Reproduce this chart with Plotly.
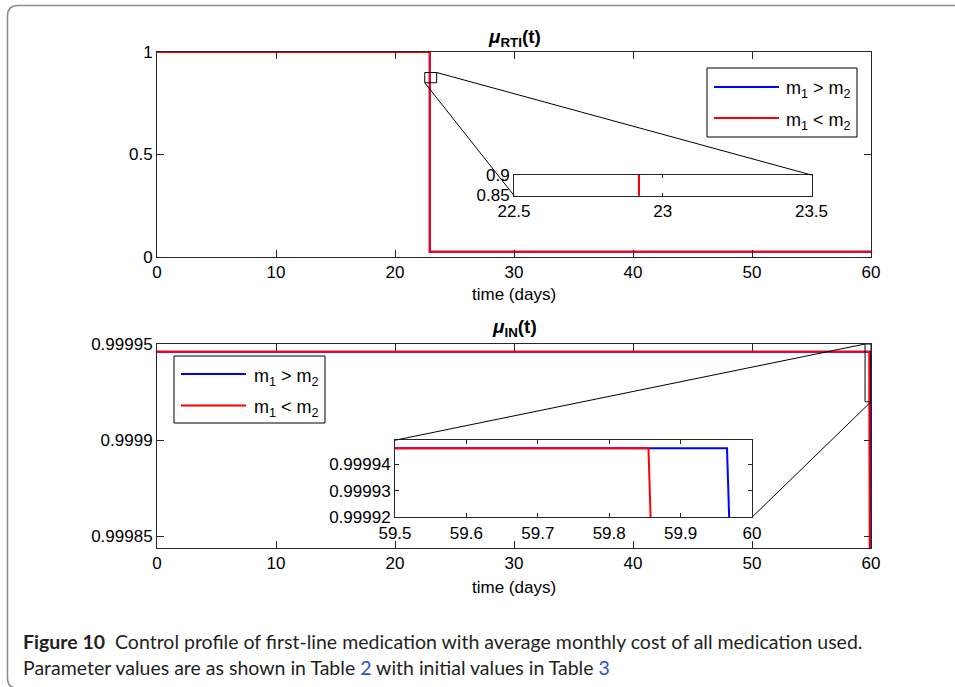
import plotly.graph_objects as go

# ---------------- data ----------------
t_rti_blue = [0, 22.92, 22.92, 60]
mu_rti_blue = [1, 1, 0.025, 0.025]
t_rti_red = [0, 22.92, 22.92, 60]
mu_rti_red = [1, 1, 0.025, 0.025]

t_in_blue = [0, 59.965, 59.968, 60]
mu_in_blue = [0.999946, 0.999946, 0.99992, 0.9996]
t_in_red = [0, 59.855, 59.858, 60]
mu_in_red = [0.999946, 0.999946, 0.99992, 0.9996]

time_ticks = [0, 10, 20, 30, 40, 50, 60]
rti_ticks = [0, 0.5, 1]
rti_ticktext = ["0", "0.5", "1"]
in_ticks = [0.99985, 0.9999, 0.99995]
in_ticktext = ["0.99985", "0.9999", "0.99995"]
rti_zoom_x = [22.5, 23, 23.5]
rti_zoom_y = [0.85, 0.9]
in_zoom_x = [59.5, 59.6, 59.7, 59.8, 59.9, 60]
in_zoom_xtext = ["59.5", "59.6", "59.7", "59.8", "59.9", "60"]
in_zoom_y = [0.99992, 0.99993, 0.99994]
in_zoom_ytext = ["0.99992", "0.99993", "0.99994"]

legend_labels = ["m<sub>1</sub> &gt; m<sub>2</sub>", "m<sub>1</sub> &lt; m<sub>2</sub>"]
BLUE, RED = "#0000ff", "#ff0000"

# ---------------- layout geometry (pixels) ----------------
W, H = 955, 687
AX_L, AX_R = 157, 871
TOP_Y = (52, 257)
BOT_Y = (344, 548)
RTI_RANGE = (0, 1)
IN_RANGE = (0.999844, 0.99995)
T_RANGE = (0, 60)

# inset boxes in parent data coordinates (x0, x1, y0, y1)
rti_inset = (30, 55, 0.3, 0.4)
in_inset = (20, 50, 0.99986, 0.9999)
rti_zoom_box = (22.5, 23.5, 0.85, 0.9)
in_zoom_box = (59.5, 60, 0.99992, 0.99995)


def pxx(x):
    return x / W


def pxy(y):
    return 1 - y / H


def data_to_paper(t, v, yrange, ypix):
    xp = AX_L + (t - T_RANGE[0]) / (T_RANGE[1] - T_RANGE[0]) * (AX_R - AX_L)
    yp = ypix[1] - (v - yrange[0]) / (yrange[1] - yrange[0]) * (ypix[1] - ypix[0])
    return pxx(xp), pxy(yp)


def inset_domain(box, yrange, ypix):
    x0, y0 = data_to_paper(box[0], box[2], yrange, ypix)
    x1, y1 = data_to_paper(box[1], box[3], yrange, ypix)
    return [x0, x1], [y0, y1]


FONT = "Liberation Sans, Arial, Helvetica, sans-serif"
AXC = "#262626"

fig = go.Figure()

def add_pair(tb, yb, tr, yr, xa, ya):
    fig.add_trace(go.Scatter(x=tb, y=yb, mode="lines", line=dict(color=BLUE, width=2),
                             xaxis=xa, yaxis=ya, showlegend=False, hoverinfo="skip"))
    fig.add_trace(go.Scatter(x=tr, y=yr, mode="lines", line=dict(color=RED, width=2),
                             xaxis=xa, yaxis=ya, showlegend=False, hoverinfo="skip"))

add_pair(t_rti_blue, mu_rti_blue, t_rti_red, mu_rti_red, "x", "y")
add_pair(t_rti_blue, mu_rti_blue, t_rti_red, mu_rti_red, "x2", "y2")
add_pair(t_in_blue, mu_in_blue, t_in_red, mu_in_red, "x3", "y3")
add_pair(t_in_blue, mu_in_blue, t_in_red, mu_in_red, "x4", "y4")


def ax(domain, rng, tickvals, ticktext=None, ticklen=7, anchor=None):
    d = dict(domain=domain, range=list(rng), tickvals=tickvals, showline=True,
             linecolor=AXC, linewidth=1, mirror="ticks", ticks="inside", ticklen=ticklen,
             tickcolor=AXC, tickwidth=1, showgrid=False, zeroline=False, fixedrange=True,
             automargin=False,
             tickfont=dict(family=FONT, size=17, color="#000"), anchor=anchor)
    if ticktext is not None:
        d["ticktext"] = ticktext
    return d

top_xd = [pxx(AX_L), pxx(AX_R)]
top_yd = [pxy(TOP_Y[1]), pxy(TOP_Y[0])]
bot_yd = [pxy(BOT_Y[1]), pxy(BOT_Y[0])]
rti_in_xd, rti_in_yd = inset_domain(rti_inset, RTI_RANGE, TOP_Y)
in_in_xd, in_in_yd = inset_domain(in_inset, IN_RANGE, BOT_Y)

fig.update_layout(
    xaxis=ax(top_xd, T_RANGE, time_ticks, anchor="y"),
    yaxis=ax(top_yd, RTI_RANGE, rti_ticks, rti_ticktext, anchor="x"),
    xaxis2=ax(rti_in_xd, (22.5, 23.5), rti_zoom_x, ["22.5", "23", "23.5"], ticklen=3, anchor="y2"),
    yaxis2=ax(rti_in_yd, (0.85, 0.9), rti_zoom_y, ["0.85", "0.9"], ticklen=3, anchor="x2"),
    xaxis3=ax(top_xd, T_RANGE, time_ticks, anchor="y3"),
    yaxis3=ax(bot_yd, IN_RANGE, in_ticks, in_ticktext, anchor="x3"),
    xaxis4=ax(in_in_xd, (59.5, 60), in_zoom_x, in_zoom_xtext, ticklen=4, anchor="y4"),
    yaxis4=ax(in_in_yd, (0.99992, 0.999949), in_zoom_y, in_zoom_ytext, ticklen=4, anchor="x4"),
)

shapes = []
annotations = []

# zoom boxes and connector lines (in parent data coords)
for (bx, xa, ya, ins, corners) in [
    (rti_zoom_box, "x", "y", rti_inset, [((1, 3), (1, 3)), ((0, 2), (0, 2))]),
    (in_zoom_box, "x3", "y3", in_inset, [((0, 3), (0, 3)), ((1, 2), (1, 2))]),
]:
    shapes.append(dict(type="rect", xref=xa, yref=ya, x0=bx[0], x1=bx[1], y0=bx[2], y1=bx[3],
                       line=dict(color="#000", width=1), layer="above"))
    for (bc, ic) in corners:
        shapes.append(dict(type="line", xref=xa, yref=ya,
                           x0=bx[bc[0]], y0=bx[bc[1]], x1=ins[ic[0]], y1=ins[ic[1]],
                           line=dict(color="#000", width=1), layer="above"))

# custom legends (pixel geometry)
for (bx0, by0, bx1, by1, lx0, lx1, tx, rows) in [
    (707, 68, 857, 137, 714, 779, 784, (87, 118)),
    (174, 356, 325, 423, 181, 246, 252, (374, 405.5)),
]:
    shapes.append(dict(type="rect", xref="paper", yref="paper", x0=pxx(bx0), x1=pxx(bx1),
                       y0=pxy(by1), y1=pxy(by0), fillcolor="white",
                       line=dict(color="#000", width=1), layer="above"))
    for ry, col, lab in zip(rows, [BLUE, RED], legend_labels):
        shapes.append(dict(type="line", xref="paper", yref="paper", x0=pxx(lx0), x1=pxx(lx1),
                           y0=pxy(ry), y1=pxy(ry), line=dict(color=col, width=2), layer="above"))
        annotations.append(dict(xref="paper", yref="paper", x=pxx(tx), y=pxy(ry + 3),
                                xanchor="left", yanchor="middle", showarrow=False, text=lab,
                                font=dict(family=FONT, size=18, color="#000")))

# titles and axis labels
cx = pxx((AX_L + AX_R) / 2)
annotations += [
    dict(xref="paper", yref="paper", x=cx, y=pxy(38), xanchor="center", yanchor="middle",
         showarrow=False, text="<b><i>μ</i><sub>RTI</sub>(t)</b>",
         font=dict(family=FONT, size=19, color="#000")),
    dict(xref="paper", yref="paper", x=cx, y=pxy(328), xanchor="center", yanchor="middle",
         showarrow=False, text="<b><i>μ</i><sub>IN</sub>(t)</b>",
         font=dict(family=FONT, size=19, color="#000")),
    dict(xref="paper", yref="paper", x=cx, y=pxy(295), xanchor="center", yanchor="middle",
         showarrow=False, text="time (days)", font=dict(family=FONT, size=17, color="#000")),
    dict(xref="paper", yref="paper", x=cx, y=pxy(587), xanchor="center", yanchor="middle",
         showarrow=False, text="time (days)", font=dict(family=FONT, size=17, color="#000")),
]

# caption
CAP_FONT = "Lato, Open Sans, sans-serif"
LINK = "#2f4fd0"
annotations += [
    dict(xref="paper", yref="paper", x=pxx(21), y=pxy(641), xanchor="left", yanchor="middle",
         showarrow=False,
         text="<b>Figure 10</b>&nbsp;&nbsp;Control profile of first-line medication with average monthly cost of all medication used.",
         font=dict(family=CAP_FONT, size=19.5, color="#231f20")),
    dict(xref="paper", yref="paper", x=pxx(21), y=pxy(667), xanchor="left", yanchor="middle",
         showarrow=False,
         text=f"Parameter values are as shown in Table <span style='color:{LINK}'>2</span> with initial values in Table <span style='color:{LINK}'>3</span>",
         font=dict(family=CAP_FONT, size=19.5, color="#231f20")),
]

# outer rounded frame (partial)
def P(x, y):
    return f"{pxx(x)},{pxy(y)}"

frame = (f"M {P(960, 5.5)} L {P(18, 5.5)} Q {P(7.5, 5.5)} {P(7.5, 16)} "
         f"L {P(7.5, 678)} Q {P(7.5, 688)} {P(17, 688)} L {P(960, 688)}")
shapes.append(dict(type="path", xref="paper", yref="paper", path=frame,
                   line=dict(color="#8a8a8a", width=1.5), layer="below"))

fig.update_layout(
    width=W, height=H, autosize=False,
    margin=dict(l=0, r=0, t=0, b=0, pad=0, autoexpand=False),
    paper_bgcolor="white", plot_bgcolor="white",
    shapes=shapes, annotations=annotations, showlegend=False,
)

fig.write_html("out.html", config={"displayModeBar": False})
